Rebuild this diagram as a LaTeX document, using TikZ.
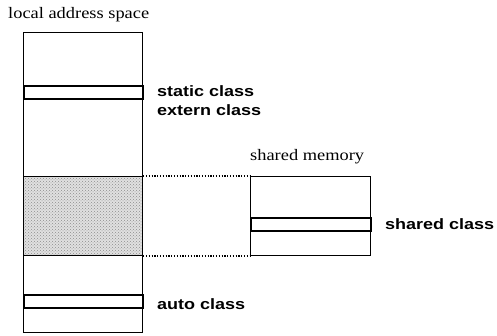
\documentclass[tikz,border=0pt]{standalone}
\usepackage{graphicx}
\usepackage{fontspec}
\setmainfont{Liberation Serif}
\newfontfamily\classfont{Liberation Sans}
\usetikzlibrary{positioning,patterns}
\newcommand{\wide}[2][1.2]{\scalebox{#1}[1]{#2}}

\begin{document}
\begin{tikzpicture}[x=1pt, y=-1pt,
  block/.style={draw, line width=1.1pt, inner sep=0pt, anchor=north west},
  band/.style={draw, line width=1.8pt, inner sep=0pt, anchor=north west,
               minimum width=119pt, minimum height=13pt},
  guide/.style={line width=1.4pt, dash pattern=on 1.2pt off 1.6pt},
  classlbl/.style={font=\classfont\bfseries\fontsize{15}{18}\selectfont,
                   anchor=base west, inner sep=0pt},
  spacelbl/.style={font=\fontsize{16}{19}\selectfont, anchor=base west, inner sep=0pt}]
\useasboundingbox (0,0) rectangle (497,336);

\node[block, minimum width=119pt, minimum height=300pt] (localspace) at (23,32) {};
\node[band] (staticband) at (23,85) {};
\node[block, preaction={fill=black!12}, pattern=crosshatch dots, pattern color=black!45,
      minimum width=119pt, minimum height=79pt] (sharedseg) at (23,176) {};
\node[band] (autoband) at (23,294) {};

\node[block, minimum width=120pt, minimum height=79pt] (sharedmem) at (250,176) {};
\node[band, minimum width=120pt] (sharedband) at (250,217) {};

\draw[guide] (sharedseg.north east) -- (sharedmem.north west);
\draw[guide] (sharedseg.south east) -- (sharedmem.south west);

\node[spacelbl] (locallbl) at (8,19) {\wide[1.15]{local address space}};
\node[spacelbl] (sharedmemlbl) at (250,161) {\wide[1.15]{shared memory}};

\node[classlbl] (staticlbl) at (157,97) {\wide{static class}};
\node[classlbl] (externlbl) at (157,116) {\wide{extern class}};
\node[classlbl] (sharedlbl) at (385,230) {\wide{shared class}};
\node[classlbl] (autolbl) at (157,309) {\wide{auto class}};
\end{tikzpicture}
\end{document}
